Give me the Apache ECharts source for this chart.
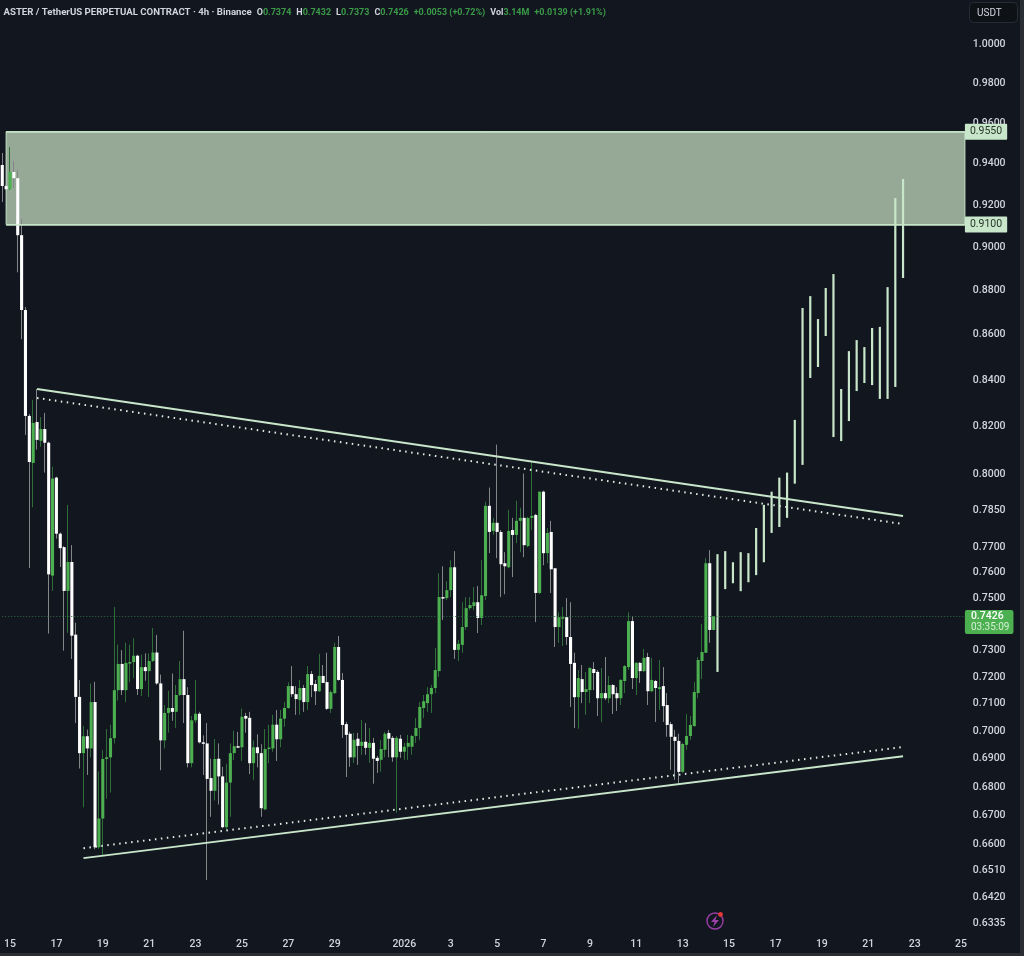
<!DOCTYPE html>
<html><head><meta charset="utf-8">
<style>html,body{margin:0;padding:0;background:#12161f}#c{width:1024px;height:956px}</style>
<script src="https://cdn.jsdelivr.net/npm/echarts@6/dist/echarts.min.js"></script>
</head><body><div id="c"></div>
<script>
const opens=[
.9386,.9284,.9269,.9352,.9322,.9050,.8705,.8239,.8040,.8213,
.8133,.8183,.8125,.7583,.7979,.7750,.7696,.7523,.7637,.7354,
.7120,.6915,.6976,.6932,.7101,.6585,.6684,.6894,.6900,.6969,
.7145,.7243,.7145,.7247,.7250,.7274,.7149,.7231,.7216,.7254,
.7286,.7170,.6961,.7061,.7079,.7065,.7127,.7186,.7127,.6879,
.7034,.7058,.6954,.6950,.6826,.6781,.6895,.6832,.6654,.6810,
.6915,.6940,.6936,.7050,.7043,.6879,.6936,.6915,.6716,.6930,
.6932,.7018,.6965,.7040,.7079,.7160,.7130,.7108,.7153,.7101,
.7205,.7168,.7141,.7198,.7175,.7076,.7134,.7307,.7183,.7020,
.6985,.6900,.6967,.6941,.6956,.6934,.6952,.6898,.6891,.6927,
.6988,.6970,.6900,.6967,.6920,.6938,.6938,.6977,.7006,.7079,
.7097,.7130,.7153,.7216,.7499,.7495,.7526,.7616,.7296,.7315,
.7383,.7456,.7464,.7479,.7418,.7503,.7863,.7761,.7794,.7757,
.7632,.7616,.7765,.7745,.7802,.7814,.7700,.7814,.7826,.7515,
.7921,.7672,.7757,.7612,.7383,.7418,.7421,.7345,.7247,.7119,
.7186,.7138,.7145,.7224,.7213,.7115,.7134,.7115,.7164,.7134,
.7115,.7179,.7231,.7406,.7190,.7247,.7216,.7269,.7141,.7179,
.7149,.7160,.7090,.7020,.6974,.6959,.6848,.6945,.6977,.7013,
.7134,.7254,.7285,.7632,.7372];
const closes=[
.9284,.9269,.9352,.9322,.9050,.8705,.8239,.8044,.8209,.8137,
.8183,.8125,.7588,.7975,.7750,.7692,.7523,.7637,.7350,.7120,
.6915,.6976,.6932,.7101,.6585,.6684,.6894,.6900,.6969,.7145,
.7243,.7145,.7247,.7250,.7274,.7149,.7231,.7216,.7254,.7286,
.7170,.6961,.7061,.7079,.7065,.7127,.7186,.7127,.6879,.7034,
.7058,.6954,.6950,.6823,.6781,.6894,.6832,.6654,.6810,.6915,
.6940,.6936,.7047,.7040,.6879,.6936,.6915,.6720,.6930,.6935,
.7018,.6965,.7040,.7079,.7160,.7130,.7112,.7153,.7101,.7205,
.7164,.7141,.7198,.7172,.7076,.7138,.7307,.7183,.7017,.6981,
.6900,.6963,.6941,.6956,.6934,.6952,.6895,.6887,.6930,.6985,
.6967,.6900,.6970,.6920,.6938,.6952,.6977,.7006,.7083,.7104,
.7130,.7153,.7220,.7499,.7495,.7526,.7616,.7296,.7319,.7383,
.7456,.7468,.7479,.7418,.7506,.7863,.7757,.7794,.7757,.7628,
.7620,.7761,.7745,.7802,.7814,.7704,.7814,.7822,.7515,.7921,
.7672,.7753,.7608,.7383,.7421,.7421,.7345,.7243,.7119,.7190,
.7138,.7149,.7228,.7209,.7115,.7134,.7115,.7164,.7130,.7115,
.7183,.7235,.7406,.7190,.7247,.7216,.7266,.7141,.7183,.7153,
.7156,.7086,.7017,.6974,.6959,.6848,.6948,.6977,.7017,.7138,
.7258,.7288,.7632,.7372,.7425];
const lows=[
.9207,.9265,.9265,.9274,.8877,.8574,.8158,.7613,.7857,.8096,
.8108,.8000,.7358,.7523,.7730,.7617,.7293,.7361,.7262,.7024,
.6860,.6723,.6837,.6900,.6578,.6580,.6558,.6753,.6775,.6950,
.7106,.7127,.7101,.7174,.7190,.7127,.7123,.7180,.7120,.7250,
.7165,.6854,.6932,.6989,.7032,.7006,.7123,.7024,.6864,.6864,
.7024,.6950,.6837,.6474,.6690,.6747,.6733,.6650,.6645,.6690,
.6890,.6934,.6887,.6989,.6840,.6820,.6864,.6690,.6713,.6879,
.6920,.6887,.6936,.7010,.7076,.7120,.7054,.7054,.7065,.7072,
.7119,.7090,.7138,.7172,.7072,.7061,.7130,.7180,.6970,.6830,
.6866,.6880,.6873,.6909,.6909,.6880,.6806,.6844,.6848,.6900,
.6900,.6884,.6704,.6898,.6891,.6891,.6909,.6952,.6963,.7042,
.7065,.7061,.7134,.7194,.7410,.7487,.7499,.7262,.7254,.7285,
.7372,.7448,.7448,.7360,.7391,.7487,.7672,.7745,.7652,.7499,
.7510,.7612,.7577,.7712,.7676,.7656,.7696,.7765,.7402,.7510,
.7624,.7632,.7515,.7307,.7323,.7311,.7315,.7083,.7006,.7003,
.7097,.7054,.7097,.7145,.7050,.7028,.7108,.7097,.7057,.7068,
.7090,.7134,.7220,.7149,.7127,.7172,.7213,.7090,.7138,.7028,
.7072,.7028,.6974,.6855,.6820,.6806,.6844,.6927,.6963,.7010,
.7115,.7186,.7285,.7323,.7372];
const highs=[
.9445,.9290,.9474,.9405,.9361,.9126,.8718,.8247,.8308,.8355,
.8234,.8252,.8130,.8024,.7983,.7755,.7700,.7867,.7704,.7400,
.7183,.7013,.7000,.7170,.7176,.6850,.6926,.7002,.7018,.7460,
.7316,.7295,.7323,.7316,.7340,.7278,.7278,.7283,.7283,.7380,
.7353,.7203,.7090,.7143,.7207,.7164,.7254,.7369,.7156,.7050,
.7183,.7065,.6979,.7024,.6895,.6966,.6950,.6866,.6877,.6950,
.6996,.6992,.7077,.7061,.7065,.6961,.6983,.6947,.7002,.7018,
.7054,.7072,.7072,.7101,.7174,.7235,.7160,.7183,.7164,.7235,
.7216,.7183,.7281,.7239,.7285,.7145,.7323,.7349,.7209,.7028,
.6992,.6988,.6988,.7035,.7024,.7006,.6970,.6905,.6963,.6992,
.6999,.6977,.6977,.6981,.6952,.6981,.6981,.7042,.7101,.7127,
.7156,.7164,.7303,.7593,.7620,.7561,.7644,.7680,.7334,.7479,
.7499,.7499,.7538,.7542,.7644,.7880,.7938,.7814,.8117,.7765,
.7676,.7847,.7814,.7884,.7855,.7996,.7818,.8046,.7830,.7921,
.7925,.7773,.7802,.7612,.7440,.7460,.7495,.7479,.7285,.7220,
.7239,.7213,.7231,.7250,.7220,.7228,.7269,.7198,.7168,.7156,
.7186,.7239,.7440,.7425,.7250,.7250,.7300,.7285,.7266,.7183,
.7258,.7231,.7134,.7028,.6999,.6985,.6952,.7057,.7050,.7175,
.7269,.7395,.7652,.7684,.7425];
// pale body-only bars that follow the candles (every second slot)
const paleTops=[.7668,.7680,.7636,.7676,.7672,.7773,.7867,.7921,.7979,.8000,.8222,.8714,.8768,.8664,.8805,.8869,.8355,.8521,.8570,.8539,.8624,.8629,.8809,.9226,.9318];
const paleBottoms=[.7213,.7530,.7553,.7522,.7557,.7585,.7636,.7753,.7777,.7814,.7954,.8032,.8403,.8451,.8588,.8149,.8132,.8217,.8346,.8381,.8372,.8312,.8312,.8364,.8851];
const slotCount=250, firstCandleSlot=0, firstPaleSlot=185, paleStep=2;
const xTickSlots=[2,14,26,38,50,62,74,86,104,116,128,140,152,164,176,188,200,212,224,236,248];
const xTickLabels=['15','17','19','21','23','25','27','29','2026','3','5','7','9','11','13','15','17','19','21','23','25'];
const yTicks=[1.0,.98,.96,.94,.92,.90,.88,.86,.84,.82,.80,.785,.77,.76,.75,.73,.72,.71,.70,.69,.68,.67,.66,.651,.642,.6335];
const zoneTop=.955, zoneBottom=.91, lastPrice=.7426;
const upperSolid=[[9,.8355],[233,.7822]];
const upperDotted=[[9,.8316],[233,.7789]];
const lowerSolid=[[21,.6548],[233,.6904]];
const lowerDotted=[[21,.6582],[233,.6937]];

const empty=['-','-','-','-'];
const cats=Array.from({length:slotCount},(_,i)=>'s'+i);
const labelBySlot={};xTickSlots.forEach((s,k)=>labelBySlot[cats[s]]=xTickLabels[k]);
const wickRows=[],bodyRows=[],paleRows=[];
for(let s=0;s<slotCount;s++){
  const k=s-firstCandleSlot;
  if(k>=0&&k<opens.length){
    wickRows.push([opens[k],closes[k],lows[k],highs[k]]);
    bodyRows.push([s,Math.min(opens[k],closes[k]),Math.max(opens[k],closes[k]),closes[k]>=opens[k]?1:0]);
  }else wickRows.push(empty);
  const p=(s-firstPaleSlot)/paleStep;
  if(p>=0&&Number.isInteger(p)&&p<paleTops.length)paleRows.push([s,paleBottoms[p],paleTops[p]]);
}
const UP='#4caf50',DOWN='#ffffff',PALE='#c8e6c9',FONT='Roboto, "Noto Sans", sans-serif';
const barRenderer=(width,colorOf)=>(params,api)=>{
  const a=api.coord([api.value(0),api.value(1)]),b=api.coord([api.value(0),api.value(2)]);
  return {type:'rect',shape:{x:a[0]-width/2,y:b[1],width,height:Math.max(a[1]-b[1],1.5)},style:{fill:colorOf(api)}};
};
const trend=(name,data,dotted)=>({name,type:'line',data,showSymbol:false,symbol:'none',silent:true,z:7,
  lineStyle:dotted?{color:'#e4efe5',width:2,type:[1.5,4.5],cap:'butt'}:{color:PALE,width:2}});
const priceTag=(v)=>({label:{show:true,position:'end',distance:0,formatter:v.toFixed(4),color:'#26352a',fontFamily:FONT,fontSize:10.5,
  backgroundColor:PALE,padding:[3,5,2,5],borderRadius:1}});

const chart=echarts.init(document.getElementById('c'),null,{renderer:'canvas'});
chart.setOption({
  animation:false,backgroundColor:'#12161f',
  title:[{left:3.5,top:8,padding:0,text:
    '{t|ASTER / TetherUS PERPETUAL CONTRACT · 4h · Binance}  {w|O}{g|0.7374}  {w|H}{g|0.7432}  {w|L}{g|0.7373}  {w|C}{g|0.7426}  {g|+0.0053 (+0.72%)}  {w|Vol}{g|3.14M}  {g|+0.0139 (+1.91%)}',
    textStyle:{fontSize:9,rich:{t:{color:'#d1d4dc',fontFamily:FONT,fontSize:9.65},w:{color:'#d1d4dc',fontFamily:FONT,fontSize:9},g:{color:'#3b9a48',fontFamily:FONT,fontSize:9}}}},
    {left:969,top:2,text:'USDT',padding:[6,16,5,8],borderRadius:4,backgroundColor:'#0e1116',borderColor:'#262b35',borderWidth:1,
     textStyle:{color:'#d1d4dc',fontFamily:FONT,fontSize:10,fontWeight:'normal'}}],
  grid:{left:.335,top:0,width:966.5,height:930,containLabel:false},
  xAxis:{type:'category',data:cats,boundaryGap:true,axisLine:{show:false},axisTick:{show:false},splitLine:{show:false},
    axisLabel:{interval:(i,v)=>labelBySlot[v]!==undefined,formatter:v=>labelBySlot[v]||'',hideOverlap:false,margin:9,color:'#d1d4dc',fontFamily:FONT,fontSize:10.5,fontWeight:500}},
  yAxis:{type:'log',logBase:10,position:'right',min:.6308,max:1.0226,scale:true,axisLine:{show:false},axisTick:{show:false},splitLine:{show:false},minorSplitLine:{show:false},
    axisLabel:{customValues:yTicks,formatter:v=>'{n|'+Number(v).toFixed(4)+'}',margin:6,showMinLabel:true,showMaxLabel:true,
      rich:{n:{padding:[3,0,0,0],color:'#d1d4dc',fontFamily:FONT,fontSize:10.5,fontWeight:500}}}},
  series:[
    {name:'wicks',type:'candlestick',data:wickRows,barWidth:1,z:3,silent:true,
     itemStyle:{color:'#2f6e38',color0:'#84868a',borderColor:'#2f6e38',borderColor0:'#84868a',borderWidth:1},
     markArea:{silent:true,z:1,itemStyle:{color:'#95a996',borderColor:PALE,borderWidth:1},data:[[{xAxis:1,yAxis:zoneTop},{xAxis:249,yAxis:zoneBottom}]]},
     markLine:{silent:true,symbol:'none',z:9,animation:false,
       data:[
        [{xAxis:1,yAxis:zoneTop,lineStyle:{color:PALE,width:1.5,type:'solid'},...priceTag(zoneTop)},{xAxis:249,yAxis:zoneTop}],
        [{xAxis:1,yAxis:zoneBottom,lineStyle:{color:PALE,width:1.5,type:'solid'},...priceTag(zoneBottom)},{xAxis:249,yAxis:zoneBottom}],
        [{xAxis:0,yAxis:lastPrice,lineStyle:{color:'#2f6e45',width:1,type:[1,2]},
          label:{show:true,position:'end',distance:0,offset:[0,6],formatter:'{a|0.7426}\n{b|03:35:09}',backgroundColor:UP,padding:[1,4,1,6],borderRadius:2,
            rich:{a:{color:'#ffffff',fontFamily:FONT,fontSize:10.5,fontWeight:500,lineHeight:11},b:{color:'#d5f0d6',fontFamily:FONT,fontSize:10,lineHeight:11}}}},{xAxis:249,yAxis:lastPrice}]
       ]}},
    {name:'bodies',type:'custom',data:bodyRows,z:4,silent:true,encode:{x:0,y:[1,2]},
     renderItem:barRenderer(3.1,api=>api.value(3)?UP:DOWN)},
    {name:'pale bars',type:'custom',data:paleRows,z:5,silent:true,encode:{x:0,y:[1,2]},
     renderItem:barRenderer(2.2,()=>PALE)},
    trend('upper trend',upperSolid,false),
    trend('upper dotted',upperDotted,true),
    trend('lower trend',lowerSolid,false),
    trend('lower dotted',lowerDotted,true)
  ],
  graphic:[
    {type:'rect',silent:true,shape:{x:1020,y:0,width:4,height:956},style:{fill:'#2a2d33'}},
    {type:'rect',silent:true,shape:{x:0,y:953,width:1024,height:3},style:{fill:'#2a2d33'}},
    {type:'circle',silent:true,shape:{cx:715,cy:921,r:8},style:{fill:'none',stroke:'#9c3fa8',lineWidth:1.4}},
    {type:'polygon',silent:true,shape:{points:[[717,915],[711,922],[714.5,922],[713,927],[719,920],[715.5,920]]},style:{fill:'#9c3fa8'}},
    {type:'circle',silent:true,shape:{cx:720.5,cy:914.5,r:2.4},style:{fill:'#e53935'}}
  ]
});
</script></body></html>
